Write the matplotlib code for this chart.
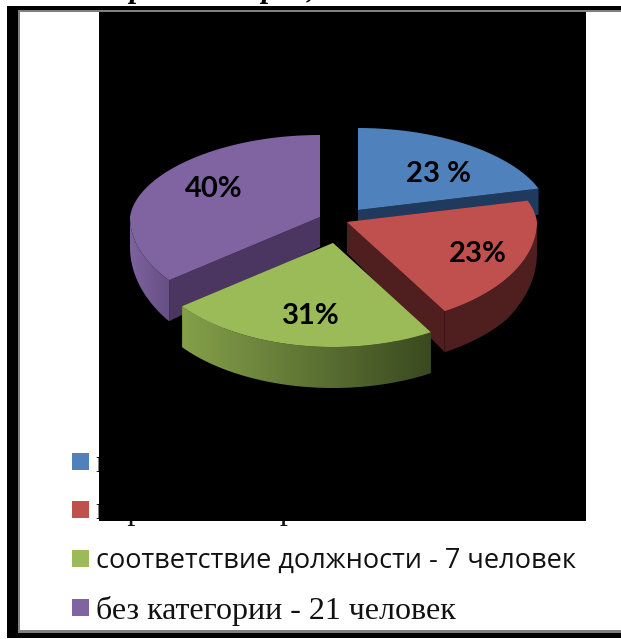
import numpy as np
import matplotlib
matplotlib.use("Agg")
import matplotlib.pyplot as plt
from matplotlib.patches import Polygon, Rectangle
from matplotlib.colors import to_rgb

W, H = 621, 639
# Data
slice_labels = ["23 %", "23%", "31%", "40%"]
slice_shares = [20.8, 20.6, 23.2, 35.4]   # visual share of the circle per slice
legend_labels = ["высшая категория", "первая категория",
                 "соответствие должности - 7 человек", "без категории - 21 человек"]

# Style / geometry
top_colors = ["#4f81bd", "#c0504d", "#9bbb59", "#8064a2"]
inner_colors = ["#1f3a5c", "#4f1f1f", "#3f4f22", "#4a3660"]
side_from = ["#1f3a5c", "#4f1f1f", "#84a04a", "#7e639f"]
side_to = ["#1f3a5c", "#4f1f1f", "#3a4a1f", "#654f83"]
apex = [(358, 210), (347, 222), (333, 243), (320, 217)]
label_pos = [(439, 174), (478, 254), (311, 316), (214, 189)]
RX, RY_BACK, RY_FRONT, BACK_NARROW = 190, 82, 104, 0.06
draw_order = [0, 3, 1, 2]

fig = plt.figure(figsize=(W / 100, H / 100), dpi=100)
ax = fig.add_axes([0, 0, 1, 1])


def depth(y):
    return np.clip(30 + (np.asarray(y, float) - 217) * 11 / 62, 26, 41)


def rim(i, t):
    cx, cy = apex[i]
    c = np.cos(t)
    r = RX * np.sin(t) * (1 - BACK_NARROW * np.maximum(c, 0))
    ry = np.where(c >= 0, RY_BACK, RY_FRONT)
    return cx + r, cy - ry * c


# Frame
ax.add_patch(Rectangle((7, 6), W - 7, H - 7, fc="black", ec="none", zorder=1))
ax.add_patch(Rectangle((18, 10), W - 18, 623, fc="#808080", ec="none", zorder=1.1))
ax.add_patch(Rectangle((19.5, 12), W - 19.5, 618, fc="white", ec="none", zorder=1.2))

# Title fragments above the frame
for x, s in [(137, "р"), (269, "р"), (310, ","), (332, "д")]:
    ax.text(x, -2.5, s, family="Liberation Serif", style="italic", weight="bold",
            fontsize=22, ha="center", va="baseline", zorder=0.5)

# Legend (first two rows are under the black panel)
legend_y = [461, 509, 558, 607]
legend_base = [472, 519.5, 568, 619]
legend_fonts = ["Liberation Serif", "Liberation Serif", "Open Sans", "Liberation Serif"]
legend_sizes = [23, 23, 19.5, 23]
for i, lab in enumerate(legend_labels):
    ax.add_patch(Rectangle((72, legend_y[i] - 8), 16.5, 16.5, fc=top_colors[i], ec="none", zorder=2))
    ax.text(96, legend_base[i], lab, family=legend_fonts[i], fontsize=legend_sizes[i],
            color="#111111", ha="left", va="baseline", zorder=2)

# Black panel
ax.add_patch(Rectangle((99, 12), 487, 508.5, fc="black", ec="none", zorder=3))

# Pie
edges = np.deg2rad(np.cumsum([0] + slice_shares) / sum(slice_shares) * 360)
z = 4
for i in draw_order:
    ts = np.linspace(edges[i], edges[i + 1], 240)
    xs, ys = rim(i, ts)
    cx, cy = apex[i]
    # inner cut faces
    for (ex, ey) in [(xs[0], ys[0]), (xs[-1], ys[-1])]:
        ax.add_patch(Polygon([(cx, cy), (ex, ey), (ex, ey + depth(ey)), (cx, cy + depth(cy))],
                             closed=True, fc=inner_colors[i], ec="none", zorder=z))
    # outer rim (front half only) with a left-to-right gradient clipped to the rim shape
    vis = np.cos(ts) <= 0
    if vis.any():
        vx, vy = xs[vis], ys[vis]
        outline = np.column_stack([np.r_[vx, vx[::-1]], np.r_[vy, (vy + depth(vy))[::-1]]])
        c0, c1 = np.array(to_rgb(side_from[i])), np.array(to_rgb(side_to[i]))
        grad = (c0 + (c1 - c0) * np.linspace(0, 1, 256)[:, None])[None, :, :]
        clip = Polygon(outline, closed=True, transform=ax.transData, fc="none", ec="none")
        ax.add_patch(clip)
        im = ax.imshow(grad, extent=(vx.min(), vx.max(), outline[:, 1].max(), outline[:, 1].min()),
                       aspect="auto", zorder=z, interpolation="bilinear")
        im.set_clip_path(clip)
    # top face
    ax.add_patch(Polygon(np.column_stack([np.r_[cx, xs], np.r_[cy, ys]]), closed=True,
                         fc=top_colors[i], ec="none", zorder=z + 0.5))
    z += 1

for (x, y), s in zip(label_pos, slice_labels):
    ax.text(x, y, s, family="Lato", weight="bold", fontsize=21, color="black",
            ha="center", va="center", zorder=20)

ax.set_xlim(0, W)
ax.set_ylim(H, 0)
ax.axis("off")
fig.savefig("out.png", dpi=100)
